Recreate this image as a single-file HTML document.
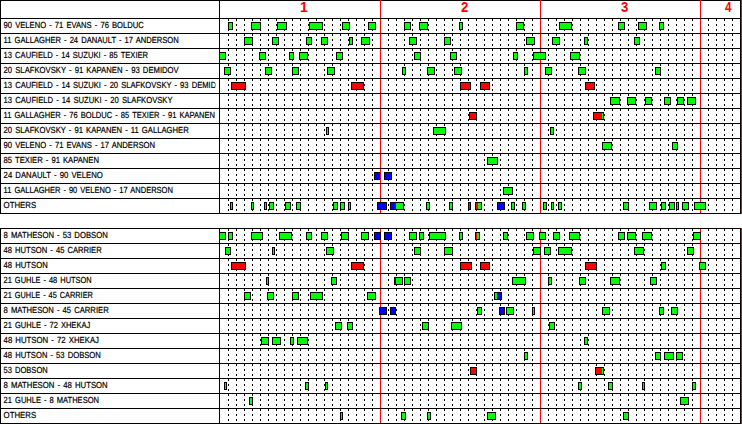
<!DOCTYPE html>
<html><head><meta charset="utf-8"><title>Shift chart</title>
<style>html,body{margin:0;padding:0;background:#fff}svg{display:block}.l{font-family:"Liberation Sans",sans-serif;font-size:8.8px;fill:#000;stroke:#000;stroke-width:.2px;text-rendering:geometricPrecision;word-spacing:1.1px}.p{font-family:"Liberation Sans",sans-serif;font-size:14px;font-weight:bold;fill:#ff0000}.k{stroke:#000;stroke-width:1;shape-rendering:crispEdges}.d{stroke:#000;stroke-width:1;stroke-dasharray:2 3;shape-rendering:crispEdges}.r{stroke:#ff0000;stroke-width:1;shape-rendering:crispEdges}.b{stroke:#000;stroke-width:1;shape-rendering:crispEdges}</style></head><body>
<svg width="742" height="424" viewBox="0 0 742 424">
<rect width="742" height="424" fill="#fff"/>
<defs><clipPath id="lc"><rect x="1" y="0" width="214.5" height="424"/></clipPath></defs>
<line class="d" x1="228.5" y1="19" x2="228.5" y2="213"/>
<line class="d" x1="236.5" y1="19" x2="236.5" y2="213"/>
<line class="d" x1="244.5" y1="19" x2="244.5" y2="213"/>
<line class="d" x1="252.5" y1="19" x2="252.5" y2="213"/>
<line class="d" x1="260.5" y1="19" x2="260.5" y2="213"/>
<line class="d" x1="268.5" y1="19" x2="268.5" y2="213"/>
<line class="d" x1="276.5" y1="19" x2="276.5" y2="213"/>
<line class="d" x1="284.5" y1="19" x2="284.5" y2="213"/>
<line class="d" x1="292.5" y1="19" x2="292.5" y2="213"/>
<line class="d" x1="300.5" y1="19" x2="300.5" y2="213"/>
<line class="d" x1="308.5" y1="19" x2="308.5" y2="213"/>
<line class="d" x1="316.5" y1="19" x2="316.5" y2="213"/>
<line class="d" x1="324.5" y1="19" x2="324.5" y2="213"/>
<line class="d" x1="332.5" y1="19" x2="332.5" y2="213"/>
<line class="d" x1="340.5" y1="19" x2="340.5" y2="213"/>
<line class="d" x1="348.5" y1="19" x2="348.5" y2="213"/>
<line class="d" x1="356.5" y1="19" x2="356.5" y2="213"/>
<line class="d" x1="364.5" y1="19" x2="364.5" y2="213"/>
<line class="d" x1="372.5" y1="19" x2="372.5" y2="213"/>
<line class="d" x1="388.5" y1="19" x2="388.5" y2="213"/>
<line class="d" x1="396.5" y1="19" x2="396.5" y2="213"/>
<line class="d" x1="404.5" y1="19" x2="404.5" y2="213"/>
<line class="d" x1="412.5" y1="19" x2="412.5" y2="213"/>
<line class="d" x1="420.5" y1="19" x2="420.5" y2="213"/>
<line class="d" x1="428.5" y1="19" x2="428.5" y2="213"/>
<line class="d" x1="436.5" y1="19" x2="436.5" y2="213"/>
<line class="d" x1="444.5" y1="19" x2="444.5" y2="213"/>
<line class="d" x1="452.5" y1="19" x2="452.5" y2="213"/>
<line class="d" x1="460.5" y1="19" x2="460.5" y2="213"/>
<line class="d" x1="468.5" y1="19" x2="468.5" y2="213"/>
<line class="d" x1="476.5" y1="19" x2="476.5" y2="213"/>
<line class="d" x1="484.5" y1="19" x2="484.5" y2="213"/>
<line class="d" x1="492.5" y1="19" x2="492.5" y2="213"/>
<line class="d" x1="500.5" y1="19" x2="500.5" y2="213"/>
<line class="d" x1="508.5" y1="19" x2="508.5" y2="213"/>
<line class="d" x1="516.5" y1="19" x2="516.5" y2="213"/>
<line class="d" x1="524.5" y1="19" x2="524.5" y2="213"/>
<line class="d" x1="532.5" y1="19" x2="532.5" y2="213"/>
<line class="d" x1="548.5" y1="19" x2="548.5" y2="213"/>
<line class="d" x1="556.5" y1="19" x2="556.5" y2="213"/>
<line class="d" x1="564.5" y1="19" x2="564.5" y2="213"/>
<line class="d" x1="572.5" y1="19" x2="572.5" y2="213"/>
<line class="d" x1="580.5" y1="19" x2="580.5" y2="213"/>
<line class="d" x1="588.5" y1="19" x2="588.5" y2="213"/>
<line class="d" x1="596.5" y1="19" x2="596.5" y2="213"/>
<line class="d" x1="604.5" y1="19" x2="604.5" y2="213"/>
<line class="d" x1="612.5" y1="19" x2="612.5" y2="213"/>
<line class="d" x1="620.5" y1="19" x2="620.5" y2="213"/>
<line class="d" x1="628.5" y1="19" x2="628.5" y2="213"/>
<line class="d" x1="636.5" y1="19" x2="636.5" y2="213"/>
<line class="d" x1="644.5" y1="19" x2="644.5" y2="213"/>
<line class="d" x1="652.5" y1="19" x2="652.5" y2="213"/>
<line class="d" x1="660.5" y1="19" x2="660.5" y2="213"/>
<line class="d" x1="668.5" y1="19" x2="668.5" y2="213"/>
<line class="d" x1="676.5" y1="19" x2="676.5" y2="213"/>
<line class="d" x1="684.5" y1="19" x2="684.5" y2="213"/>
<line class="d" x1="692.5" y1="19" x2="692.5" y2="213"/>
<line class="d" x1="708.5" y1="19" x2="708.5" y2="213"/>
<line class="d" x1="716.5" y1="19" x2="716.5" y2="213"/>
<line class="d" x1="724.5" y1="19" x2="724.5" y2="213"/>
<line class="d" x1="732.5" y1="19" x2="732.5" y2="213"/>
<line class="r" x1="380.5" y1="0" x2="380.5" y2="213"/>
<line class="r" x1="540.5" y1="0" x2="540.5" y2="213"/>
<line class="r" x1="700.5" y1="0" x2="700.5" y2="213"/>
<line class="k" x1="0" y1="0.5" x2="741" y2="0.5"/>
<line class="k" x1="0" y1="18.5" x2="741" y2="18.5"/>
<line class="k" x1="0" y1="33.5" x2="741" y2="33.5"/>
<line class="k" x1="0" y1="48.5" x2="741" y2="48.5"/>
<line class="k" x1="0" y1="63.5" x2="741" y2="63.5"/>
<line class="k" x1="0" y1="78.5" x2="741" y2="78.5"/>
<line class="k" x1="0" y1="93.5" x2="741" y2="93.5"/>
<line class="k" x1="0" y1="108.5" x2="741" y2="108.5"/>
<line class="k" x1="0" y1="123.5" x2="741" y2="123.5"/>
<line class="k" x1="0" y1="138.5" x2="741" y2="138.5"/>
<line class="k" x1="0" y1="153.5" x2="741" y2="153.5"/>
<line class="k" x1="0" y1="168.5" x2="741" y2="168.5"/>
<line class="k" x1="0" y1="183.5" x2="741" y2="183.5"/>
<line class="k" x1="0" y1="198.5" x2="741" y2="198.5"/>
<line class="k" x1="0" y1="213.5" x2="741" y2="213.5"/>
<rect x="380" y="0" width="1" height="1" fill="#ff0000" shape-rendering="crispEdges"/>
<rect x="540" y="0" width="1" height="1" fill="#ff0000" shape-rendering="crispEdges"/>
<rect x="700" y="0" width="1" height="1" fill="#ff0000" shape-rendering="crispEdges"/>
<line class="k" x1="0.5" y1="0" x2="0.5" y2="214"/>
<line class="k" x1="219.5" y1="0" x2="219.5" y2="214"/>
<line class="k" x1="740.5" y1="0" x2="740.5" y2="214"/>
<line class="r" x1="741.5" y1="0" x2="741.5" y2="214"/>
<rect class="b" x="228.5" y="22.5" width="4" height="7" fill="#00ff00"/>
<rect class="b" x="251.5" y="22.5" width="9" height="7" fill="#00ff00"/>
<rect class="b" x="277.5" y="22.5" width="9" height="7" fill="#00ff00"/>
<rect class="b" x="309.5" y="22.5" width="13" height="7" fill="#00ff00"/>
<rect class="b" x="342.5" y="22.5" width="7" height="7" fill="#00ff00"/>
<rect class="b" x="368.5" y="22.5" width="7" height="7" fill="#00ff00"/>
<rect class="b" x="404.5" y="22.5" width="6" height="7" fill="#00ff00"/>
<rect class="b" x="419.5" y="22.5" width="8" height="7" fill="#00ff00"/>
<rect class="b" x="459.5" y="22.5" width="3" height="7" fill="#00ff00"/>
<rect class="b" x="516.5" y="22.5" width="7" height="7" fill="#00ff00"/>
<rect class="b" x="559.5" y="22.5" width="12" height="7" fill="#00ff00"/>
<rect class="b" x="618.5" y="22.5" width="6" height="7" fill="#00ff00"/>
<rect class="b" x="638.5" y="22.5" width="8" height="7" fill="#00ff00"/>
<rect class="b" x="659.5" y="22.5" width="4" height="7" fill="#00ff00"/>
<rect class="b" x="244.5" y="37.5" width="8" height="7" fill="#00ff00"/>
<rect class="b" x="272.5" y="37.5" width="6" height="7" fill="#00ff00"/>
<rect class="b" x="306.5" y="37.5" width="5" height="7" fill="#00ff00"/>
<rect class="b" x="321.5" y="37.5" width="6" height="7" fill="#00ff00"/>
<rect class="b" x="349.5" y="37.5" width="3" height="7" fill="#00ff00"/>
<rect class="b" x="361.5" y="37.5" width="8" height="7" fill="#00ff00"/>
<rect class="b" x="409.5" y="37.5" width="7" height="7" fill="#00ff00"/>
<rect class="b" x="444.5" y="37.5" width="6" height="7" fill="#00ff00"/>
<rect class="b" x="526.5" y="37.5" width="8" height="7" fill="#00ff00"/>
<rect class="b" x="552.5" y="37.5" width="7" height="7" fill="#00ff00"/>
<rect class="b" x="584.5" y="37.5" width="3" height="7" fill="#00ff00"/>
<rect class="b" x="634.5" y="37.5" width="5" height="7" fill="#00ff00"/>
<rect class="b" x="219.5" y="52.5" width="6" height="7" fill="#00ff00"/>
<rect class="b" x="259.5" y="52.5" width="6" height="7" fill="#00ff00"/>
<rect class="b" x="289.5" y="52.5" width="4" height="7" fill="#00ff00"/>
<rect class="b" x="299.5" y="52.5" width="8" height="7" fill="#00ff00"/>
<rect class="b" x="336.5" y="52.5" width="6" height="7" fill="#00ff00"/>
<rect class="b" x="414.5" y="52.5" width="6" height="7" fill="#00ff00"/>
<rect class="b" x="450.5" y="52.5" width="6" height="7" fill="#00ff00"/>
<rect class="b" x="513.5" y="52.5" width="4" height="7" fill="#00ff00"/>
<rect class="b" x="533.5" y="52.5" width="12" height="7" fill="#00ff00"/>
<rect class="b" x="570.5" y="52.5" width="9" height="7" fill="#00ff00"/>
<rect class="b" x="224.5" y="67.5" width="6" height="7" fill="#00ff00"/>
<rect class="b" x="265.5" y="67.5" width="6" height="7" fill="#00ff00"/>
<rect class="b" x="292.5" y="67.5" width="6" height="7" fill="#00ff00"/>
<rect class="b" x="327.5" y="67.5" width="7" height="7" fill="#00ff00"/>
<rect class="b" x="402.5" y="67.5" width="3" height="7" fill="#00ff00"/>
<rect class="b" x="427.5" y="67.5" width="7" height="7" fill="#00ff00"/>
<rect class="b" x="454.5" y="67.5" width="7" height="7" fill="#00ff00"/>
<rect class="b" x="524.5" y="67.5" width="3" height="7" fill="#00ff00"/>
<rect class="b" x="545.5" y="67.5" width="6" height="7" fill="#00ff00"/>
<rect class="b" x="578.5" y="67.5" width="7" height="7" fill="#00ff00"/>
<rect class="b" x="655.5" y="67.5" width="5" height="7" fill="#00ff00"/>
<rect class="b" x="231.5" y="82.5" width="14" height="7" fill="#ff0000"/>
<rect class="b" x="351.5" y="82.5" width="12" height="7" fill="#ff0000"/>
<rect class="b" x="460.5" y="82.5" width="10" height="7" fill="#ff0000"/>
<rect class="b" x="480.5" y="82.5" width="9" height="7" fill="#ff0000"/>
<rect class="b" x="585.5" y="82.5" width="9" height="7" fill="#ff0000"/>
<rect class="b" x="610.5" y="97.5" width="9" height="7" fill="#00ff00"/>
<rect class="b" x="627.5" y="97.5" width="8" height="7" fill="#00ff00"/>
<rect class="b" x="645.5" y="97.5" width="6" height="7" fill="#00ff00"/>
<rect class="b" x="664.5" y="97.5" width="6" height="7" fill="#00ff00"/>
<rect class="b" x="677.5" y="97.5" width="6" height="7" fill="#00ff00"/>
<rect class="b" x="687.5" y="97.5" width="8" height="7" fill="#00ff00"/>
<rect class="b" x="469.5" y="112.5" width="7" height="7" fill="#ff0000"/>
<rect class="b" x="593.5" y="112.5" width="10" height="7" fill="#00ff00"/>
<rect x="594" y="113" width="8" height="6" fill="#ff0000" shape-rendering="crispEdges"/>
<rect class="b" x="326.5" y="127.5" width="2" height="7" fill="#00ff00"/>
<rect class="b" x="433.5" y="127.5" width="12" height="7" fill="#00ff00"/>
<rect class="b" x="550.5" y="127.5" width="3" height="7" fill="#00ff00"/>
<rect class="b" x="602.5" y="142.5" width="9" height="7" fill="#00ff00"/>
<rect class="b" x="672.5" y="142.5" width="5" height="7" fill="#00ff00"/>
<rect class="b" x="487.5" y="157.5" width="10" height="7" fill="#00ff00"/>
<rect class="b" x="374.5" y="172.5" width="5" height="7" fill="#0000ff"/>
<rect class="b" x="384.5" y="172.5" width="7" height="7" fill="#0000ff"/>
<rect class="b" x="503.5" y="187.5" width="9" height="7" fill="#00ff00"/>
<rect class="b" x="230.5" y="202.5" width="2" height="7" fill="#00ff00"/>
<rect class="b" x="251.5" y="202.5" width="2" height="7" fill="#00ff00"/>
<rect class="b" x="264.5" y="202.5" width="2" height="7" fill="#00ff00"/>
<rect class="b" x="269.5" y="202.5" width="4" height="7" fill="#00ff00"/>
<rect class="b" x="285.5" y="202.5" width="5" height="7" fill="#00ff00"/>
<rect class="b" x="296.5" y="202.5" width="4" height="7" fill="#00ff00"/>
<rect class="b" x="333.5" y="202.5" width="4" height="7" fill="#00ff00"/>
<rect class="b" x="340.5" y="202.5" width="4" height="7" fill="#00ff00"/>
<rect class="b" x="348.5" y="202.5" width="2" height="7" fill="#00ff00"/>
<rect class="b" x="377.5" y="202.5" width="9" height="7" fill="#0000ff"/>
<rect class="b" x="390.5" y="202.5" width="13" height="7" fill="#00ff00"/>
<rect x="391" y="203" width="5" height="6" fill="#0000ff" shape-rendering="crispEdges"/>
<rect class="b" x="426.5" y="202.5" width="3" height="7" fill="#00ff00"/>
<rect class="b" x="449.5" y="202.5" width="3" height="7" fill="#00ff00"/>
<rect class="b" x="468.5" y="202.5" width="2" height="7" fill="#ff0000"/>
<rect class="b" x="475.5" y="202.5" width="6" height="7" fill="#00ff00"/>
<rect x="476" y="203" width="2" height="6" fill="#ff0000" shape-rendering="crispEdges"/>
<rect class="b" x="497.5" y="202.5" width="7" height="7" fill="#0000ff"/>
<rect class="b" x="511.5" y="202.5" width="3" height="7" fill="#00ff00"/>
<rect class="b" x="522.5" y="202.5" width="3" height="7" fill="#00ff00"/>
<rect class="b" x="543.5" y="202.5" width="3" height="7" fill="#00ff00"/>
<rect class="b" x="551.5" y="202.5" width="2" height="7" fill="#00ff00"/>
<rect class="b" x="558.5" y="202.5" width="3" height="7" fill="#00ff00"/>
<rect class="b" x="623.5" y="202.5" width="5" height="7" fill="#00ff00"/>
<rect class="b" x="649.5" y="202.5" width="7" height="7" fill="#00ff00"/>
<rect class="b" x="661.5" y="202.5" width="4" height="7" fill="#00ff00"/>
<rect class="b" x="669.5" y="202.5" width="5" height="7" fill="#00ff00"/>
<rect class="b" x="676.5" y="202.5" width="2" height="7" fill="#00ff00"/>
<rect class="b" x="682.5" y="202.5" width="6" height="7" fill="#00ff00"/>
<rect class="b" x="694.5" y="202.5" width="11" height="7" fill="#00ff00"/>
<text class="l" clip-path="url(#lc)" x="3.6" y="28" textLength="140.2" lengthAdjust="spacingAndGlyphs">90 VELENO - 71 EVANS - 76 BOLDUC</text>
<text class="l" clip-path="url(#lc)" x="3.6" y="43" textLength="175.1" lengthAdjust="spacingAndGlyphs">11 GALLAGHER - 24 DANAULT - 17 ANDERSON</text>
<text class="l" clip-path="url(#lc)" x="3.6" y="58" textLength="144.5" lengthAdjust="spacingAndGlyphs">13 CAUFIELD - 14 SUZUKI - 85 TEXIER</text>
<text class="l" clip-path="url(#lc)" x="3.6" y="73" textLength="175.1" lengthAdjust="spacingAndGlyphs">20 SLAFKOVSKY - 91 KAPANEN - 93 DEMIDOV</text>
<text class="l" clip-path="url(#lc)" x="3.6" y="88" textLength="223.6" lengthAdjust="spacingAndGlyphs">13 CAUFIELD - 14 SUZUKI - 20 SLAFKOVSKY - 93 DEMIDOV</text>
<text class="l" clip-path="url(#lc)" x="3.6" y="103" textLength="169.0" lengthAdjust="spacingAndGlyphs">13 CAUFIELD - 14 SUZUKI - 20 SLAFKOVSKY</text>
<text class="l" clip-path="url(#lc)" x="3.6" y="118" textLength="211.5" lengthAdjust="spacingAndGlyphs">11 GALLAGHER - 76 BOLDUC - 85 TEXIER - 91 KAPANEN</text>
<text class="l" clip-path="url(#lc)" x="3.6" y="133" textLength="185.1" lengthAdjust="spacingAndGlyphs">20 SLAFKOVSKY - 91 KAPANEN - 11 GALLAGHER</text>
<text class="l" clip-path="url(#lc)" x="3.6" y="148" textLength="151.4" lengthAdjust="spacingAndGlyphs">90 VELENO - 71 EVANS - 17 ANDERSON</text>
<text class="l" clip-path="url(#lc)" x="3.6" y="163" textLength="95.4" lengthAdjust="spacingAndGlyphs">85 TEXIER - 91 KAPANEN</text>
<text class="l" clip-path="url(#lc)" x="3.6" y="178" textLength="99.3" lengthAdjust="spacingAndGlyphs">24 DANAULT - 90 VELENO</text>
<text class="l" clip-path="url(#lc)" x="3.6" y="193" textLength="169.3" lengthAdjust="spacingAndGlyphs">11 GALLAGHER - 90 VELENO - 17 ANDERSON</text>
<text class="l" clip-path="url(#lc)" x="3.6" y="208" textLength="32.6" lengthAdjust="spacingAndGlyphs">OTHERS</text>
<line class="d" x1="228.5" y1="229" x2="228.5" y2="423"/>
<line class="d" x1="236.5" y1="229" x2="236.5" y2="423"/>
<line class="d" x1="244.5" y1="229" x2="244.5" y2="423"/>
<line class="d" x1="252.5" y1="229" x2="252.5" y2="423"/>
<line class="d" x1="260.5" y1="229" x2="260.5" y2="423"/>
<line class="d" x1="268.5" y1="229" x2="268.5" y2="423"/>
<line class="d" x1="276.5" y1="229" x2="276.5" y2="423"/>
<line class="d" x1="284.5" y1="229" x2="284.5" y2="423"/>
<line class="d" x1="292.5" y1="229" x2="292.5" y2="423"/>
<line class="d" x1="300.5" y1="229" x2="300.5" y2="423"/>
<line class="d" x1="308.5" y1="229" x2="308.5" y2="423"/>
<line class="d" x1="316.5" y1="229" x2="316.5" y2="423"/>
<line class="d" x1="324.5" y1="229" x2="324.5" y2="423"/>
<line class="d" x1="332.5" y1="229" x2="332.5" y2="423"/>
<line class="d" x1="340.5" y1="229" x2="340.5" y2="423"/>
<line class="d" x1="348.5" y1="229" x2="348.5" y2="423"/>
<line class="d" x1="356.5" y1="229" x2="356.5" y2="423"/>
<line class="d" x1="364.5" y1="229" x2="364.5" y2="423"/>
<line class="d" x1="372.5" y1="229" x2="372.5" y2="423"/>
<line class="d" x1="388.5" y1="229" x2="388.5" y2="423"/>
<line class="d" x1="396.5" y1="229" x2="396.5" y2="423"/>
<line class="d" x1="404.5" y1="229" x2="404.5" y2="423"/>
<line class="d" x1="412.5" y1="229" x2="412.5" y2="423"/>
<line class="d" x1="420.5" y1="229" x2="420.5" y2="423"/>
<line class="d" x1="428.5" y1="229" x2="428.5" y2="423"/>
<line class="d" x1="436.5" y1="229" x2="436.5" y2="423"/>
<line class="d" x1="444.5" y1="229" x2="444.5" y2="423"/>
<line class="d" x1="452.5" y1="229" x2="452.5" y2="423"/>
<line class="d" x1="460.5" y1="229" x2="460.5" y2="423"/>
<line class="d" x1="468.5" y1="229" x2="468.5" y2="423"/>
<line class="d" x1="476.5" y1="229" x2="476.5" y2="423"/>
<line class="d" x1="484.5" y1="229" x2="484.5" y2="423"/>
<line class="d" x1="492.5" y1="229" x2="492.5" y2="423"/>
<line class="d" x1="500.5" y1="229" x2="500.5" y2="423"/>
<line class="d" x1="508.5" y1="229" x2="508.5" y2="423"/>
<line class="d" x1="516.5" y1="229" x2="516.5" y2="423"/>
<line class="d" x1="524.5" y1="229" x2="524.5" y2="423"/>
<line class="d" x1="532.5" y1="229" x2="532.5" y2="423"/>
<line class="d" x1="548.5" y1="229" x2="548.5" y2="423"/>
<line class="d" x1="556.5" y1="229" x2="556.5" y2="423"/>
<line class="d" x1="564.5" y1="229" x2="564.5" y2="423"/>
<line class="d" x1="572.5" y1="229" x2="572.5" y2="423"/>
<line class="d" x1="580.5" y1="229" x2="580.5" y2="423"/>
<line class="d" x1="588.5" y1="229" x2="588.5" y2="423"/>
<line class="d" x1="596.5" y1="229" x2="596.5" y2="423"/>
<line class="d" x1="604.5" y1="229" x2="604.5" y2="423"/>
<line class="d" x1="612.5" y1="229" x2="612.5" y2="423"/>
<line class="d" x1="620.5" y1="229" x2="620.5" y2="423"/>
<line class="d" x1="628.5" y1="229" x2="628.5" y2="423"/>
<line class="d" x1="636.5" y1="229" x2="636.5" y2="423"/>
<line class="d" x1="644.5" y1="229" x2="644.5" y2="423"/>
<line class="d" x1="652.5" y1="229" x2="652.5" y2="423"/>
<line class="d" x1="660.5" y1="229" x2="660.5" y2="423"/>
<line class="d" x1="668.5" y1="229" x2="668.5" y2="423"/>
<line class="d" x1="676.5" y1="229" x2="676.5" y2="423"/>
<line class="d" x1="684.5" y1="229" x2="684.5" y2="423"/>
<line class="d" x1="692.5" y1="229" x2="692.5" y2="423"/>
<line class="d" x1="708.5" y1="229" x2="708.5" y2="423"/>
<line class="d" x1="716.5" y1="229" x2="716.5" y2="423"/>
<line class="d" x1="724.5" y1="229" x2="724.5" y2="423"/>
<line class="d" x1="732.5" y1="229" x2="732.5" y2="423"/>
<line class="r" x1="380.5" y1="229" x2="380.5" y2="423"/>
<line class="r" x1="540.5" y1="229" x2="540.5" y2="423"/>
<line class="r" x1="700.5" y1="229" x2="700.5" y2="423"/>
<line class="k" x1="0" y1="228.5" x2="741" y2="228.5"/>
<line class="k" x1="0" y1="228.5" x2="741" y2="228.5"/>
<line class="k" x1="0" y1="243.5" x2="741" y2="243.5"/>
<line class="k" x1="0" y1="258.5" x2="741" y2="258.5"/>
<line class="k" x1="0" y1="273.5" x2="741" y2="273.5"/>
<line class="k" x1="0" y1="288.5" x2="741" y2="288.5"/>
<line class="k" x1="0" y1="303.5" x2="741" y2="303.5"/>
<line class="k" x1="0" y1="318.5" x2="741" y2="318.5"/>
<line class="k" x1="0" y1="333.5" x2="741" y2="333.5"/>
<line class="k" x1="0" y1="348.5" x2="741" y2="348.5"/>
<line class="k" x1="0" y1="363.5" x2="741" y2="363.5"/>
<line class="k" x1="0" y1="378.5" x2="741" y2="378.5"/>
<line class="k" x1="0" y1="393.5" x2="741" y2="393.5"/>
<line class="k" x1="0" y1="408.5" x2="741" y2="408.5"/>
<line class="k" x1="0" y1="423.5" x2="741" y2="423.5"/>
<line class="k" x1="0.5" y1="228" x2="0.5" y2="424"/>
<line class="k" x1="219.5" y1="228" x2="219.5" y2="424"/>
<line class="k" x1="740.5" y1="228" x2="740.5" y2="424"/>
<line class="r" x1="741.5" y1="228" x2="741.5" y2="424"/>
<rect class="b" x="219.5" y="232.5" width="6" height="7" fill="#00ff00"/>
<rect class="b" x="228.5" y="232.5" width="4" height="7" fill="#00ff00"/>
<rect class="b" x="251.5" y="232.5" width="11" height="7" fill="#00ff00"/>
<rect class="b" x="279.5" y="232.5" width="12" height="7" fill="#00ff00"/>
<rect class="b" x="306.5" y="232.5" width="5" height="7" fill="#00ff00"/>
<rect class="b" x="321.5" y="232.5" width="6" height="7" fill="#00ff00"/>
<rect class="b" x="341.5" y="232.5" width="7" height="7" fill="#00ff00"/>
<rect class="b" x="361.5" y="232.5" width="7" height="7" fill="#00ff00"/>
<rect class="b" x="374.5" y="232.5" width="6" height="7" fill="#0000ff"/>
<rect class="b" x="384.5" y="232.5" width="7" height="7" fill="#0000ff"/>
<rect class="b" x="409.5" y="232.5" width="7" height="7" fill="#00ff00"/>
<rect class="b" x="419.5" y="232.5" width="4" height="7" fill="#00ff00"/>
<rect class="b" x="429.5" y="232.5" width="16" height="7" fill="#00ff00"/>
<rect class="b" x="459.5" y="232.5" width="3" height="7" fill="#00ff00"/>
<rect class="b" x="475.5" y="232.5" width="4" height="7" fill="#00ff00"/>
<rect x="476" y="233" width="1" height="6" fill="#ff0000" shape-rendering="crispEdges"/>
<rect class="b" x="503.5" y="232.5" width="4" height="7" fill="#00ff00"/>
<rect class="b" x="526.5" y="232.5" width="7" height="7" fill="#00ff00"/>
<rect class="b" x="539.5" y="232.5" width="6" height="7" fill="#00ff00"/>
<rect class="b" x="553.5" y="232.5" width="6" height="7" fill="#00ff00"/>
<rect class="b" x="569.5" y="232.5" width="10" height="7" fill="#00ff00"/>
<rect class="b" x="618.5" y="232.5" width="6" height="7" fill="#00ff00"/>
<rect class="b" x="627.5" y="232.5" width="8" height="7" fill="#00ff00"/>
<rect class="b" x="642.5" y="232.5" width="9" height="7" fill="#00ff00"/>
<rect class="b" x="693.5" y="232.5" width="7" height="7" fill="#00ff00"/>
<rect class="b" x="225.5" y="247.5" width="5" height="7" fill="#00ff00"/>
<rect class="b" x="272.5" y="247.5" width="2" height="7" fill="#00ff00"/>
<rect class="b" x="326.5" y="247.5" width="7" height="7" fill="#00ff00"/>
<rect class="b" x="414.5" y="247.5" width="6" height="7" fill="#00ff00"/>
<rect class="b" x="444.5" y="247.5" width="8" height="7" fill="#00ff00"/>
<rect class="b" x="533.5" y="247.5" width="7" height="7" fill="#00ff00"/>
<rect class="b" x="544.5" y="247.5" width="6" height="7" fill="#00ff00"/>
<rect class="b" x="558.5" y="247.5" width="13" height="7" fill="#00ff00"/>
<rect class="b" x="634.5" y="247.5" width="9" height="7" fill="#00ff00"/>
<rect class="b" x="687.5" y="247.5" width="6" height="7" fill="#00ff00"/>
<rect class="b" x="231.5" y="262.5" width="14" height="7" fill="#ff0000"/>
<rect class="b" x="351.5" y="262.5" width="12" height="7" fill="#ff0000"/>
<rect class="b" x="460.5" y="262.5" width="11" height="7" fill="#ff0000"/>
<rect class="b" x="480.5" y="262.5" width="9" height="7" fill="#ff0000"/>
<rect class="b" x="585.5" y="262.5" width="11" height="7" fill="#ff0000"/>
<rect class="b" x="661.5" y="262.5" width="4" height="7" fill="#00ff00"/>
<rect class="b" x="699.5" y="262.5" width="6" height="7" fill="#00ff00"/>
<rect class="b" x="266.5" y="277.5" width="2" height="7" fill="#00ff00"/>
<rect class="b" x="331.5" y="277.5" width="5" height="7" fill="#00ff00"/>
<rect class="b" x="394.5" y="277.5" width="8" height="7" fill="#00ff00"/>
<rect x="395" y="278" width="1" height="6" fill="#0000ff" shape-rendering="crispEdges"/>
<rect class="b" x="404.5" y="277.5" width="6" height="7" fill="#00ff00"/>
<rect class="b" x="512.5" y="277.5" width="13" height="7" fill="#00ff00"/>
<rect class="b" x="548.5" y="277.5" width="3" height="7" fill="#00ff00"/>
<rect class="b" x="579.5" y="277.5" width="6" height="7" fill="#00ff00"/>
<rect class="b" x="610.5" y="277.5" width="9" height="7" fill="#00ff00"/>
<rect class="b" x="650.5" y="277.5" width="6" height="7" fill="#00ff00"/>
<rect class="b" x="244.5" y="292.5" width="6" height="7" fill="#00ff00"/>
<rect class="b" x="267.5" y="292.5" width="6" height="7" fill="#00ff00"/>
<rect class="b" x="292.5" y="292.5" width="6" height="7" fill="#00ff00"/>
<rect class="b" x="310.5" y="292.5" width="12" height="7" fill="#00ff00"/>
<rect class="b" x="367.5" y="292.5" width="8" height="7" fill="#00ff00"/>
<rect class="b" x="494.5" y="292.5" width="7" height="7" fill="#0000ff"/>
<rect x="495" y="293" width="2" height="6" fill="#00ff00" shape-rendering="crispEdges"/>
<rect class="b" x="379.5" y="307.5" width="7" height="7" fill="#0000ff"/>
<rect class="b" x="390.5" y="307.5" width="5" height="7" fill="#0000ff"/>
<rect class="b" x="477.5" y="307.5" width="4" height="7" fill="#00ff00"/>
<rect class="b" x="499.5" y="307.5" width="5" height="7" fill="#0000ff"/>
<rect class="b" x="506.5" y="307.5" width="7" height="7" fill="#00ff00"/>
<rect class="b" x="532.5" y="307.5" width="2" height="7" fill="#00ff00"/>
<rect class="b" x="602.5" y="307.5" width="7" height="7" fill="#00ff00"/>
<rect class="b" x="659.5" y="307.5" width="4" height="7" fill="#00ff00"/>
<rect class="b" x="671.5" y="307.5" width="6" height="7" fill="#00ff00"/>
<rect class="b" x="335.5" y="322.5" width="6" height="7" fill="#00ff00"/>
<rect class="b" x="347.5" y="322.5" width="5" height="7" fill="#00ff00"/>
<rect class="b" x="422.5" y="322.5" width="6" height="7" fill="#00ff00"/>
<rect class="b" x="451.5" y="322.5" width="10" height="7" fill="#00ff00"/>
<rect class="b" x="549.5" y="322.5" width="5" height="7" fill="#00ff00"/>
<rect class="b" x="261.5" y="337.5" width="7" height="7" fill="#00ff00"/>
<rect class="b" x="272.5" y="337.5" width="8" height="7" fill="#00ff00"/>
<rect class="b" x="290.5" y="337.5" width="3" height="7" fill="#00ff00"/>
<rect class="b" x="297.5" y="337.5" width="10" height="7" fill="#00ff00"/>
<rect class="b" x="584.5" y="337.5" width="3" height="7" fill="#00ff00"/>
<rect class="b" x="524.5" y="352.5" width="3" height="7" fill="#00ff00"/>
<rect class="b" x="655.5" y="352.5" width="5" height="7" fill="#00ff00"/>
<rect class="b" x="664.5" y="352.5" width="9" height="7" fill="#00ff00"/>
<rect class="b" x="676.5" y="352.5" width="6" height="7" fill="#00ff00"/>
<rect class="b" x="470.5" y="367.5" width="6" height="7" fill="#ff0000"/>
<rect class="b" x="595.5" y="367.5" width="8" height="7" fill="#00ff00"/>
<rect x="596" y="368" width="6" height="6" fill="#ff0000" shape-rendering="crispEdges"/>
<rect class="b" x="224.5" y="382.5" width="2" height="7" fill="#00ff00"/>
<rect class="b" x="305.5" y="382.5" width="3" height="7" fill="#00ff00"/>
<rect class="b" x="325.5" y="382.5" width="2" height="7" fill="#00ff00"/>
<rect class="b" x="578.5" y="382.5" width="3" height="7" fill="#00ff00"/>
<rect class="b" x="608.5" y="382.5" width="4" height="7" fill="#00ff00"/>
<rect class="b" x="642.5" y="382.5" width="2" height="7" fill="#00ff00"/>
<rect class="b" x="692.5" y="382.5" width="3" height="7" fill="#00ff00"/>
<rect class="b" x="249.5" y="397.5" width="3" height="7" fill="#00ff00"/>
<rect class="b" x="680.5" y="397.5" width="8" height="7" fill="#00ff00"/>
<rect class="b" x="340.5" y="412.5" width="2" height="7" fill="#00ff00"/>
<rect class="b" x="401.5" y="412.5" width="4" height="7" fill="#00ff00"/>
<rect class="b" x="427.5" y="412.5" width="3" height="7" fill="#00ff00"/>
<rect class="b" x="487.5" y="412.5" width="8" height="7" fill="#00ff00"/>
<rect class="b" x="623.5" y="412.5" width="5" height="7" fill="#00ff00"/>
<text class="l" clip-path="url(#lc)" x="3.6" y="238" textLength="104.1" lengthAdjust="spacingAndGlyphs">8 MATHESON - 53 DOBSON</text>
<text class="l" clip-path="url(#lc)" x="3.6" y="253" textLength="98.1" lengthAdjust="spacingAndGlyphs">48 HUTSON - 45 CARRIER</text>
<text class="l" clip-path="url(#lc)" x="3.6" y="268" textLength="44.1" lengthAdjust="spacingAndGlyphs">48 HUTSON</text>
<text class="l" clip-path="url(#lc)" x="3.6" y="283" textLength="88.1" lengthAdjust="spacingAndGlyphs">21 GUHLE - 48 HUTSON</text>
<text class="l" clip-path="url(#lc)" x="3.6" y="298" textLength="89.3" lengthAdjust="spacingAndGlyphs">21 GUHLE - 45 CARRIER</text>
<text class="l" clip-path="url(#lc)" x="3.6" y="313" textLength="105.1" lengthAdjust="spacingAndGlyphs">8 MATHESON - 45 CARRIER</text>
<text class="l" clip-path="url(#lc)" x="3.6" y="328" textLength="86.6" lengthAdjust="spacingAndGlyphs">21 GUHLE - 72 XHEKAJ</text>
<text class="l" clip-path="url(#lc)" x="3.6" y="343" textLength="95.4" lengthAdjust="spacingAndGlyphs">48 HUTSON - 72 XHEKAJ</text>
<text class="l" clip-path="url(#lc)" x="3.6" y="358" textLength="97.2" lengthAdjust="spacingAndGlyphs">48 HUTSON - 53 DOBSON</text>
<text class="l" clip-path="url(#lc)" x="3.6" y="373" textLength="44.1" lengthAdjust="spacingAndGlyphs">53 DOBSON</text>
<text class="l" clip-path="url(#lc)" x="3.6" y="388" textLength="104.1" lengthAdjust="spacingAndGlyphs">8 MATHESON - 48 HUTSON</text>
<text class="l" clip-path="url(#lc)" x="3.6" y="403" textLength="95.4" lengthAdjust="spacingAndGlyphs">21 GUHLE - 8 MATHESON</text>
<text class="l" clip-path="url(#lc)" x="3.6" y="418" textLength="32.6" lengthAdjust="spacingAndGlyphs">OTHERS</text>
<text class="p" x="300" y="12" textLength="7.8" lengthAdjust="spacingAndGlyphs">1</text>
<text class="p" x="460.9" y="12" textLength="7.3" lengthAdjust="spacingAndGlyphs">2</text>
<text class="p" x="620.9" y="12" textLength="7.3" lengthAdjust="spacingAndGlyphs">3</text>
<text class="p" x="724.9" y="12" textLength="6.5" lengthAdjust="spacingAndGlyphs">4</text>
</svg></body></html>
